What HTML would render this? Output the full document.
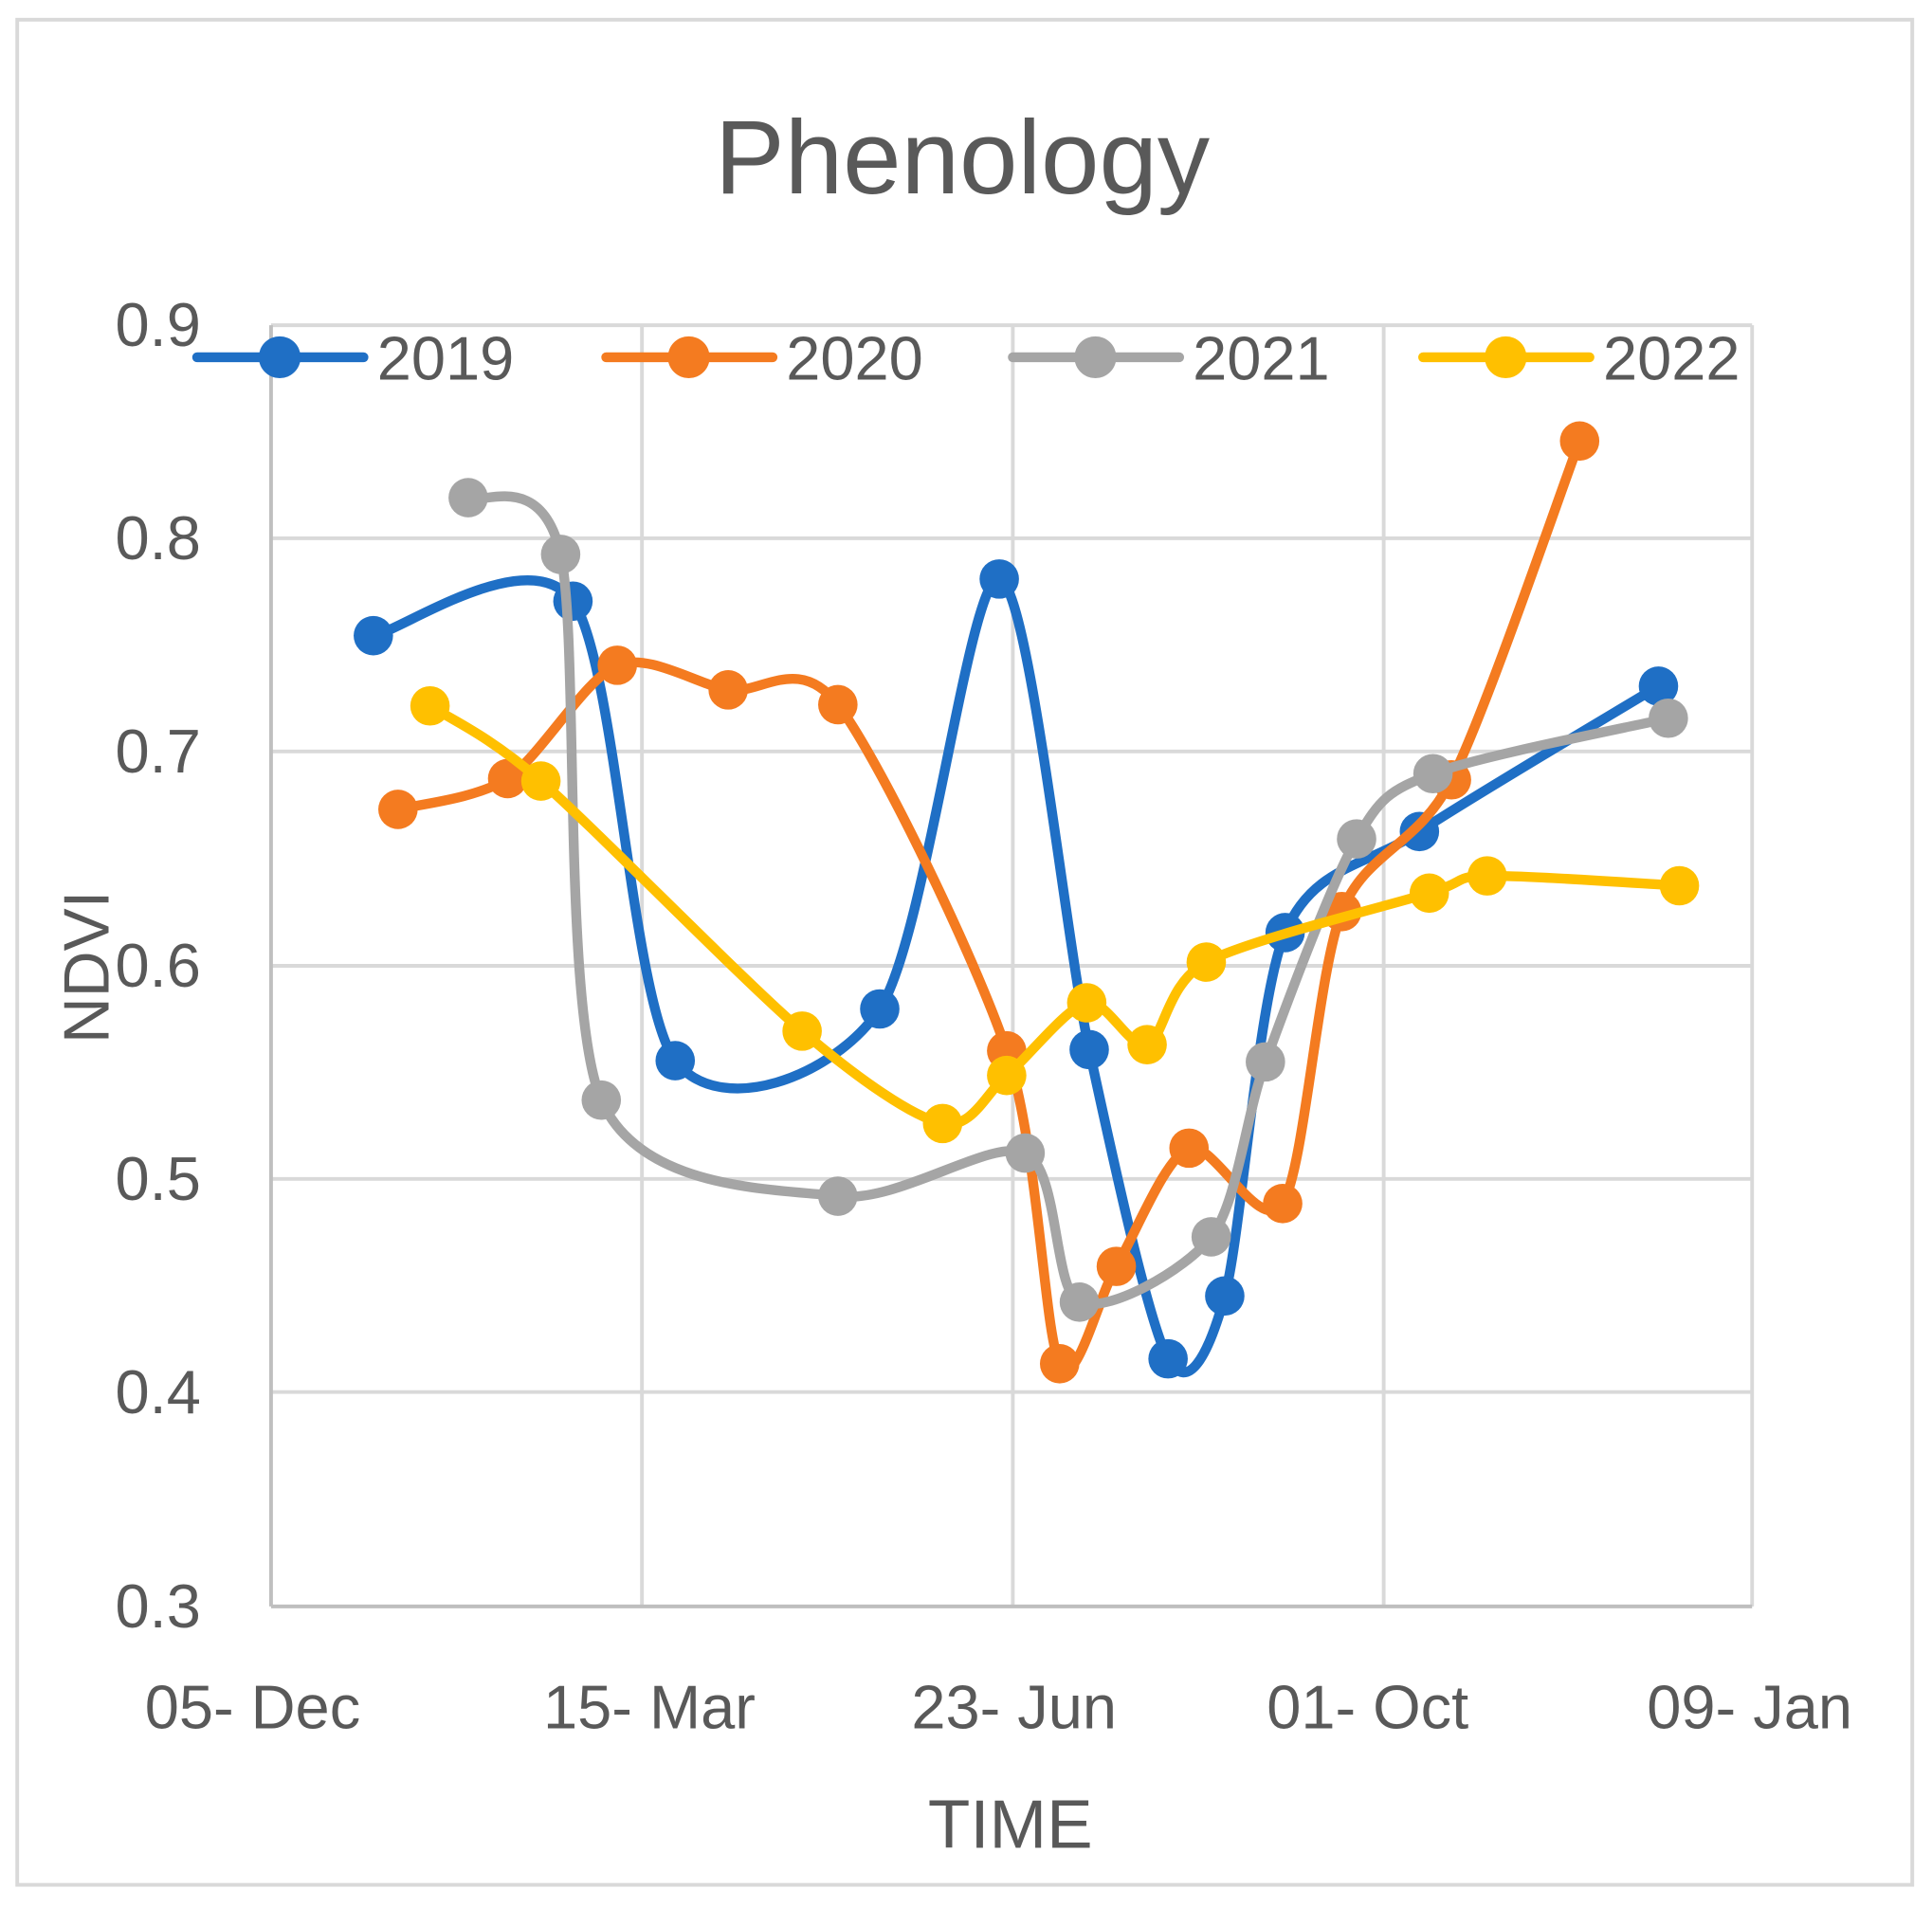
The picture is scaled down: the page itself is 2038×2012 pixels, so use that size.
<!DOCTYPE html>
<html><head><meta charset="utf-8"><style>
html,body{margin:0;padding:0;background:#fff;}
svg{display:block;}
text{font-family:"Liberation Sans",sans-serif;fill:#595959;}
</style></head><body>
<svg id="s" width="2038" height="2012" viewBox="0 0 1568 1548" preserveAspectRatio="none" xmlns="http://www.w3.org/2000/svg">
<rect x="0" y="0" width="1568" height="1548" fill="#fff"/>
<rect x="14" y="16" width="1538" height="1514" fill="none" stroke="#d9d9d9" stroke-width="3"/>
<text x="781" y="157" font-size="85" text-anchor="middle">Phenology</text>
<g stroke="#d9d9d9" stroke-width="3">
<line x1="220" y1="264" x2="1422" y2="264"/>
<line x1="220" y1="437" x2="1422" y2="437"/>
<line x1="220" y1="610" x2="1422" y2="610"/>
<line x1="220" y1="784" x2="1422" y2="784"/>
<line x1="220" y1="957" x2="1422" y2="957"/>
<line x1="220" y1="1130" x2="1422" y2="1130"/>
<line x1="521" y1="264" x2="521" y2="1304"/>
<line x1="822" y1="264" x2="822" y2="1304"/>
<line x1="1123" y1="264" x2="1123" y2="1304"/>
<line x1="1422" y1="264" x2="1422" y2="1304"/>
</g>
<g stroke="#bfbfbf" stroke-width="3">
<line x1="220" y1="264" x2="220" y2="1304"/>
<line x1="220" y1="1304" x2="1422" y2="1304"/>
</g>
<g font-size="50" text-anchor="end">
<text x="163" y="281">0.9</text>
<text x="163" y="454">0.8</text>
<text x="163" y="627">0.7</text>
<text x="163" y="801">0.6</text>
<text x="163" y="974">0.5</text>
<text x="163" y="1147">0.4</text>
<text x="163" y="1321">0.3</text>
</g>
<g font-size="50" text-anchor="middle">
<text x="205" y="1403">05- Dec</text>
<text x="527" y="1403">15- Mar</text>
<text x="823" y="1403">23- Jun</text>
<text x="1110" y="1403">01- Oct</text>
<text x="1420" y="1403">09- Jan</text>
<text x="820" y="1500" font-size="56">TIME</text>
<text x="0" y="0" font-size="52" transform="translate(88,785) rotate(-90)">NDVI</text>
</g>
<g id="series"></g>
<g id="legend" font-size="50"></g>
</svg>
<script>
var S=[
["#1f6fc5",[[303,516],[465,488],[548,861],[714,819],[811,470],[884,852],[948,1103],[994,1052],[1043,757],[1152,675],[1346,557]]],
["#f47b20",[[323,657],[412,632],[501,540],[591,560],[680,572],[817,853],[860,1107],[906,1028],[965,932],[1041,977],[1089,740],[1178,633],[1282,358]]],
["#a5a5a5",[[380,404],[455,450],[488,893],[680,971],[832,936],[876,1057],[983,1004],[1027,862],[1101,681],[1163,628],[1354,583]]],
["#ffc000",[[349,573],[439,634],[651,837],[765,912],[817,873],[882,814],[931,848],[979,781],[1160,725],[1207,711],[1363,719]]]];
var names=["2019","2020","2021","2022"],lx=[160,492,822,1155];
var ns="http://www.w3.org/2000/svg",g=document.getElementById("series"),L=document.getElementById("legend");
function el(t,a,p){var e=document.createElementNS(ns,t);for(var k in a)e.setAttribute(k,a[k]);p.appendChild(e);return e;}
S.forEach(function(s,i){
 var c=s[0],P=s[1],d="M"+P[0][0]+","+P[0][1];
 for(var j=0;j<P.length-1;j++){
  var p0=P[j-1]||P[j],p1=P[j],p2=P[j+1],p3=P[j+2]||P[j+1],t=7;
  d+=" C"+(p1[0]+(p2[0]-p0[0])/t)+","+(p1[1]+(p2[1]-p0[1])/t)+" "+(p2[0]-(p3[0]-p1[0])/t)+","+(p2[1]-(p3[1]-p1[1])/t)+" "+p2[0]+","+p2[1];
 }
 el("path",{d:d,fill:"none",stroke:c,"stroke-width":8,"stroke-linecap":"round","stroke-linejoin":"round"},g);
 P.forEach(function(p){el("circle",{cx:p[0],cy:p[1],r:16,fill:c},g);});
 el("line",{x1:lx[i],y1:290,x2:lx[i]+135,y2:290,stroke:c,"stroke-width":8,"stroke-linecap":"round"},L);
 el("circle",{cx:lx[i]+67,cy:290,r:17,fill:c},L);
 var t=el("text",{x:lx[i]+146,y:308},L);t.textContent=names[i];
});
</script>
</body></html>
